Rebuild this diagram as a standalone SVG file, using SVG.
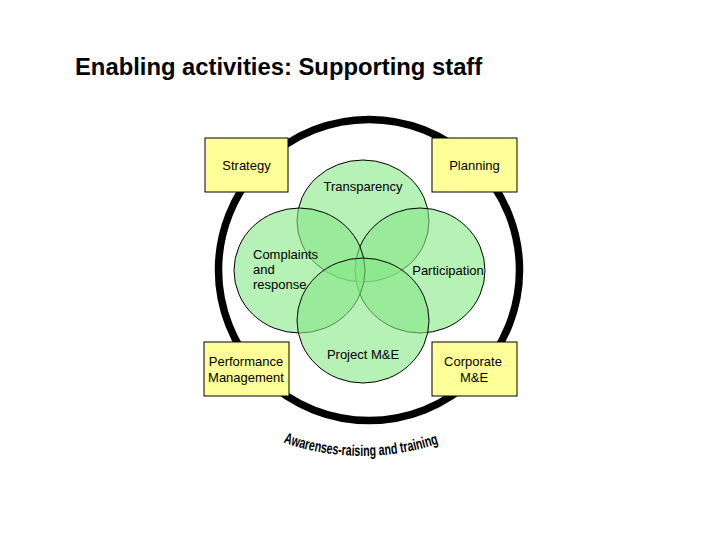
<svg xmlns="http://www.w3.org/2000/svg" width="720" height="540" viewBox="0 0 720 540">
<style>
.t{font-family:"Liberation Sans",Arial,sans-serif;font-size:13px;fill:#000}
.box{fill:#ffff99;stroke:#000;stroke-width:1}
.c{fill:#86e886;fill-opacity:0.6;stroke:#000;stroke-width:1}
</style>
<rect width="720" height="540" fill="#fff"/>
<text x="75" y="75" font-family="'Liberation Sans',Arial,sans-serif" font-weight="bold" font-size="23.8" fill="#000">Enabling activities: Supporting staff</text>
<g id="ring">
<circle cx="369" cy="270" r="150.5" fill="none" stroke="#000" stroke-width="7.5"/>
<defs><path id="arcp" d="M 279,441 A 240,240 0 0,0 443,442"/></defs>
<text font-family="'Liberation Sans',Arial,sans-serif" font-weight="bold" font-size="15.5" fill="#000"><textPath href="#arcp" startOffset="50%" text-anchor="middle" textLength="158" lengthAdjust="spacingAndGlyphs">Awarenses-raising and training</textPath></text>
</g>
<g id="transparency">
<ellipse class="c" cx="363" cy="221" rx="66" ry="61"/>
<text class="t" x="363" y="191" text-anchor="middle">Transparency</text>
</g>
<g id="participation">
<ellipse class="c" cx="420" cy="270.5" rx="65" ry="62.5"/>
<text class="t" x="448" y="275" text-anchor="middle">Participation</text>
</g>
<g id="complaints">
<ellipse class="c" cx="299.5" cy="270.5" rx="65.5" ry="62.5"/>
<text class="t" x="253" y="259">Complaints</text>
<text class="t" x="253" y="274">and</text>
<text class="t" x="253" y="289">response</text>
</g>
<g id="projectme">
<ellipse class="c" cx="363" cy="320.5" rx="66" ry="62.5"/>
<text class="t" x="363" y="359" text-anchor="middle">Project M&amp;E</text>
</g>
<g id="strategy">
<rect class="box" x="205" y="138" width="83" height="54"/>
<text class="t" x="246.5" y="169.5" text-anchor="middle">Strategy</text>
</g>
<g id="planning">
<rect class="box" x="432" y="138" width="85" height="54"/>
<text class="t" x="474.5" y="169.5" text-anchor="middle">Planning</text>
</g>
<g id="performance">
<rect class="box" x="204" y="342" width="85" height="54"/>
<text class="t" x="246" y="366" text-anchor="middle">Performance</text>
<text class="t" x="246" y="382" text-anchor="middle">Management</text>
</g>
<g id="corporate">
<rect class="box" x="432" y="342" width="85" height="54"/>
<text class="t" x="473" y="366" text-anchor="middle">Corporate</text>
<text class="t" x="474" y="382" text-anchor="middle">M&amp;E</text>
</g>
<g id="connectors"></g>
</svg>
